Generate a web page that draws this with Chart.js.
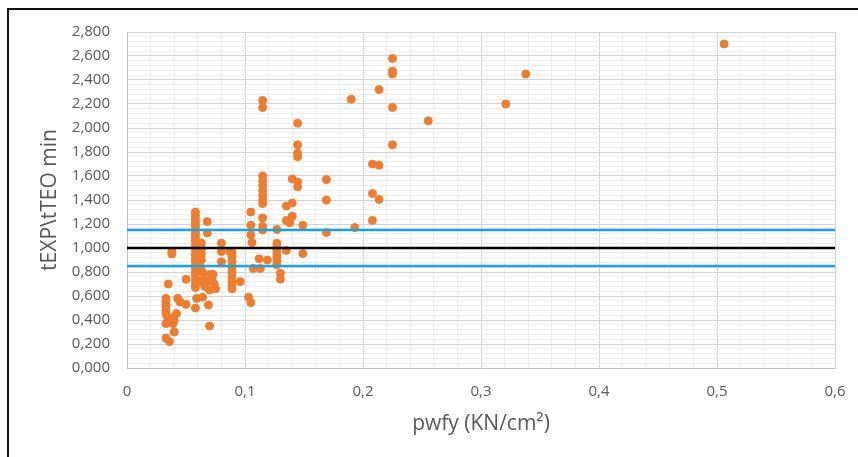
<!DOCTYPE html>
<html lang="es">
<head>
<meta charset="utf-8">
<title>tEXP\tTEO min vs pwfy</title>
<script src="https://cdn.jsdelivr.net/npm/chart.js@4.4.0/dist/chart.umd.min.js"></script>
<style>
  html, body { margin: 0; padding: 0; background: #fff; overflow: hidden; }
  #wrap { position: relative; width: 858px; height: 457px; }
  #wrap canvas { position: absolute; left: 0; top: 0; }
  /* black frame around the figure (runs off the right/bottom edge) */
  #frame {
    position: absolute; left: 7px; top: 8px; width: 1000px; height: 1000px;
    border-left: 2px solid #111; border-top: 2px solid #111;
    pointer-events: none;
  }
</style>
</head>
<body>
<div id="wrap">
  <canvas id="ratioChart"></canvas>
  <div id="frame"></div>
</div>
<script>
// ---- data ---------------------------------------------------------------
// pwfy (KN/cm²) and the measured/theoretical time ratio, one entry per test
const pwfy = [
  0.033, 0.033, 0.033, 0.033, 0.033, 0.033, 0.034, 0.033, 0.033, 0.036, 0.037, 0.038,
  0.036, 0.035, 0.038, 0.038, 0.040, 0.040, 0.043, 0.045, 0.050, 0.050, 0.042, 0.039,
  0.058, 0.058, 0.058, 0.058, 0.058, 0.058, 0.058, 0.058, 0.058, 0.058, 0.058, 0.058,
  0.058, 0.058, 0.058, 0.058, 0.058, 0.058, 0.058, 0.058, 0.058, 0.058, 0.059, 0.058,
  0.062, 0.064, 0.066, 0.068, 0.070, 0.072, 0.074, 0.075, 0.066, 0.070, 0.062, 0.073,
  0.063, 0.063, 0.063, 0.063, 0.068, 0.068, 0.064, 0.069, 0.070,
  0.080, 0.080, 0.080,
  0.089, 0.089, 0.089, 0.089, 0.089, 0.089, 0.089, 0.089, 0.089, 0.087, 0.096,
  0.105, 0.105, 0.105, 0.106, 0.103, 0.105, 0.107, 0.113, 0.112, 0.119,
  0.115, 0.115, 0.115, 0.115, 0.115, 0.115, 0.115, 0.115, 0.115, 0.115, 0.115, 0.115,
  0.127, 0.127, 0.127, 0.127, 0.127, 0.127, 0.127, 0.127, 0.130, 0.130,
  0.135, 0.135, 0.140, 0.140, 0.140, 0.138, 0.135,
  0.1446, 0.1446, 0.1446, 0.1446, 0.1446, 0.1446, 0.149, 0.149,
  0.169, 0.169, 0.169, 0.190, 0.193,
  0.208, 0.208, 0.208, 0.2136, 0.2136, 0.2136,
  0.225, 0.225, 0.225, 0.225, 0.225,
  0.2553, 0.321, 0.338, 0.506
];
const ratio = [
  0.580, 0.555, 0.530, 0.505, 0.480, 0.455, 0.430, 0.370, 0.250, 0.420, 0.400, 0.380,
  0.220, 0.700, 0.950, 0.970, 0.300, 0.400, 0.580, 0.550, 0.530, 0.740, 0.455, 0.370,
  1.300, 1.270, 1.240, 1.210, 1.180, 1.150, 1.120, 1.090, 1.060, 1.030, 1.000, 0.970,
  0.940, 0.910, 0.880, 0.850, 0.820, 0.790, 0.760, 0.730, 0.700, 0.670, 0.580, 0.500,
  0.840, 0.800, 0.760, 0.720, 0.780, 0.740, 0.700, 0.660, 0.680, 0.650, 0.720, 0.780,
  1.040, 0.990, 0.950, 0.900, 1.220, 1.125, 0.590, 0.525, 0.350,
  1.040, 0.970, 0.885,
  0.970, 0.930, 0.885, 0.840, 0.800, 0.760, 0.720, 0.690, 0.660, 0.970, 0.720,
  1.300, 1.190, 1.110, 1.045, 0.590, 0.545, 0.830, 0.830, 0.910, 0.900,
  2.230, 2.170, 1.600, 1.560, 1.520, 1.480, 1.440, 1.400, 1.370, 1.250, 1.180, 1.150,
  1.155, 1.040, 1.010, 0.980, 0.950, 0.920, 0.890, 0.860, 0.790, 0.740,
  1.350, 1.230, 1.375, 1.265, 1.575, 1.210, 0.980,
  2.040, 1.860, 1.790, 1.760, 1.550, 1.510, 1.190, 0.955,
  1.570, 1.400, 1.130, 2.240, 1.170,
  1.700, 1.455, 1.230, 2.320, 1.690, 1.405,
  2.580, 2.475, 2.450, 2.170, 1.860,
  2.060, 2.200, 2.450, 2.700
];

// horizontal reference lines: mean ratio 1.0 and the ±15 % band
const refX       = [0, 0.6];
const meanLine   = [1.0, 1.0];
const upperBand  = [1.15, 1.15];
const lowerBand  = [0.85, 0.85];

// axis labels (decimal comma)
const xTickLabels = ['0', '0,1', '0,2', '0,3', '0,4', '0,5', '0,6'];
const yTickLabels = ['0,000', '0,200', '0,400', '0,600', '0,800', '1,000', '1,200',
                     '1,400', '1,600', '1,800', '2,000', '2,200', '2,400', '2,600', '2,800'];

// ---- helpers ------------------------------------------------------------
const toPoints = (xs, ys) => xs.map((x, i) => ({ x, y: ys[i] }));

// true when v sits on a labelled (major) step
const onStep = (v, step) => Math.abs(v / step - Math.round(v / step)) < 1e-6;

const GRID_MAJOR = '#d2d2d2';
const GRID_MINOR = '#ededed';
const TEXT_GREY  = '#595959';

Chart.defaults.font.family = '"Open Sans", "Liberation Sans", sans-serif';
Chart.defaults.color = TEXT_GREY;

const refLine = (ys, color) => ({
  data: toPoints(refX, ys),
  showLine: true,
  borderColor: color,
  borderWidth: 2.5,
  pointRadius: 0,
  fill: false,
  order: 1,
});

new Chart(document.getElementById('ratioChart'), {
  type: 'scatter',
  data: {
    datasets: [
      {
        data: toPoints(pwfy, ratio),
        backgroundColor: '#ed7d31',
        borderColor: '#ed7d31',
        borderWidth: 1,
        pointRadius: 4,
        order: 2,
      },
      refLine(meanLine, '#000000'),
      refLine(upperBand, '#1ea2dc'),
      refLine(lowerBand, '#1ea2dc'),
    ],
  },
  options: {
    responsive: true,
    maintainAspectRatio: false,
    animation: false,
    layout: { padding: { top: 32, right: 23, left: 0, bottom: 0 } },
    plugins: { legend: { display: false }, tooltip: { enabled: false } },
    scales: {
      x: {
        type: 'linear',
        min: 0,
        max: 0.6,
        afterFit: (s) => { s.height = 89; },
        border: { color: '#bfbfbf', width: 1 },
        grid: {
          // invisible tick marks push the labels down without widening the side padding
          drawTicks: true,
          tickLength: 15,
          tickColor: 'rgba(0,0,0,0)',
          color: (ctx) => onStep(ctx.tick.value, 0.1) ? GRID_MAJOR : GRID_MINOR,
        },
        ticks: {
          stepSize: 0.02,
          autoSkip: false,
          maxRotation: 0,
          padding: 0,
          color: TEXT_GREY,
          font: { size: 15 },
          callback: (v) => onStep(v, 0.1) ? xTickLabels[Math.round(v / 0.1)] : '',
        },
        title: {
          display: true,
          text: 'pwfy (KN/cm²)',
          color: TEXT_GREY,
          font: { size: 21 },
          padding: { top: 0, bottom: 20 },
        },
      },
      y: {
        type: 'linear',
        min: 0,
        max: 2.8,
        afterFit: (s) => { s.width = 127; },
        border: { color: '#bfbfbf', width: 1 },
        grid: {
          drawTicks: false,
          color: (ctx) => onStep(ctx.tick.value, 0.2) ? GRID_MAJOR : GRID_MINOR,
        },
        ticks: {
          stepSize: 0.04,
          autoSkip: false,
          padding: 17,
          color: TEXT_GREY,
          font: { size: 15 },
          callback: (v) => onStep(v, 0.2) ? yTickLabels[Math.round(v / 0.2)] : '',
        },
        title: {
          display: true,
          text: 'tEXP\\tTEO min',
          color: TEXT_GREY,
          font: { size: 21 },
          padding: { top: 37, bottom: 0 },
        },
      },
    },
  },
});
</script>
</body>
</html>
